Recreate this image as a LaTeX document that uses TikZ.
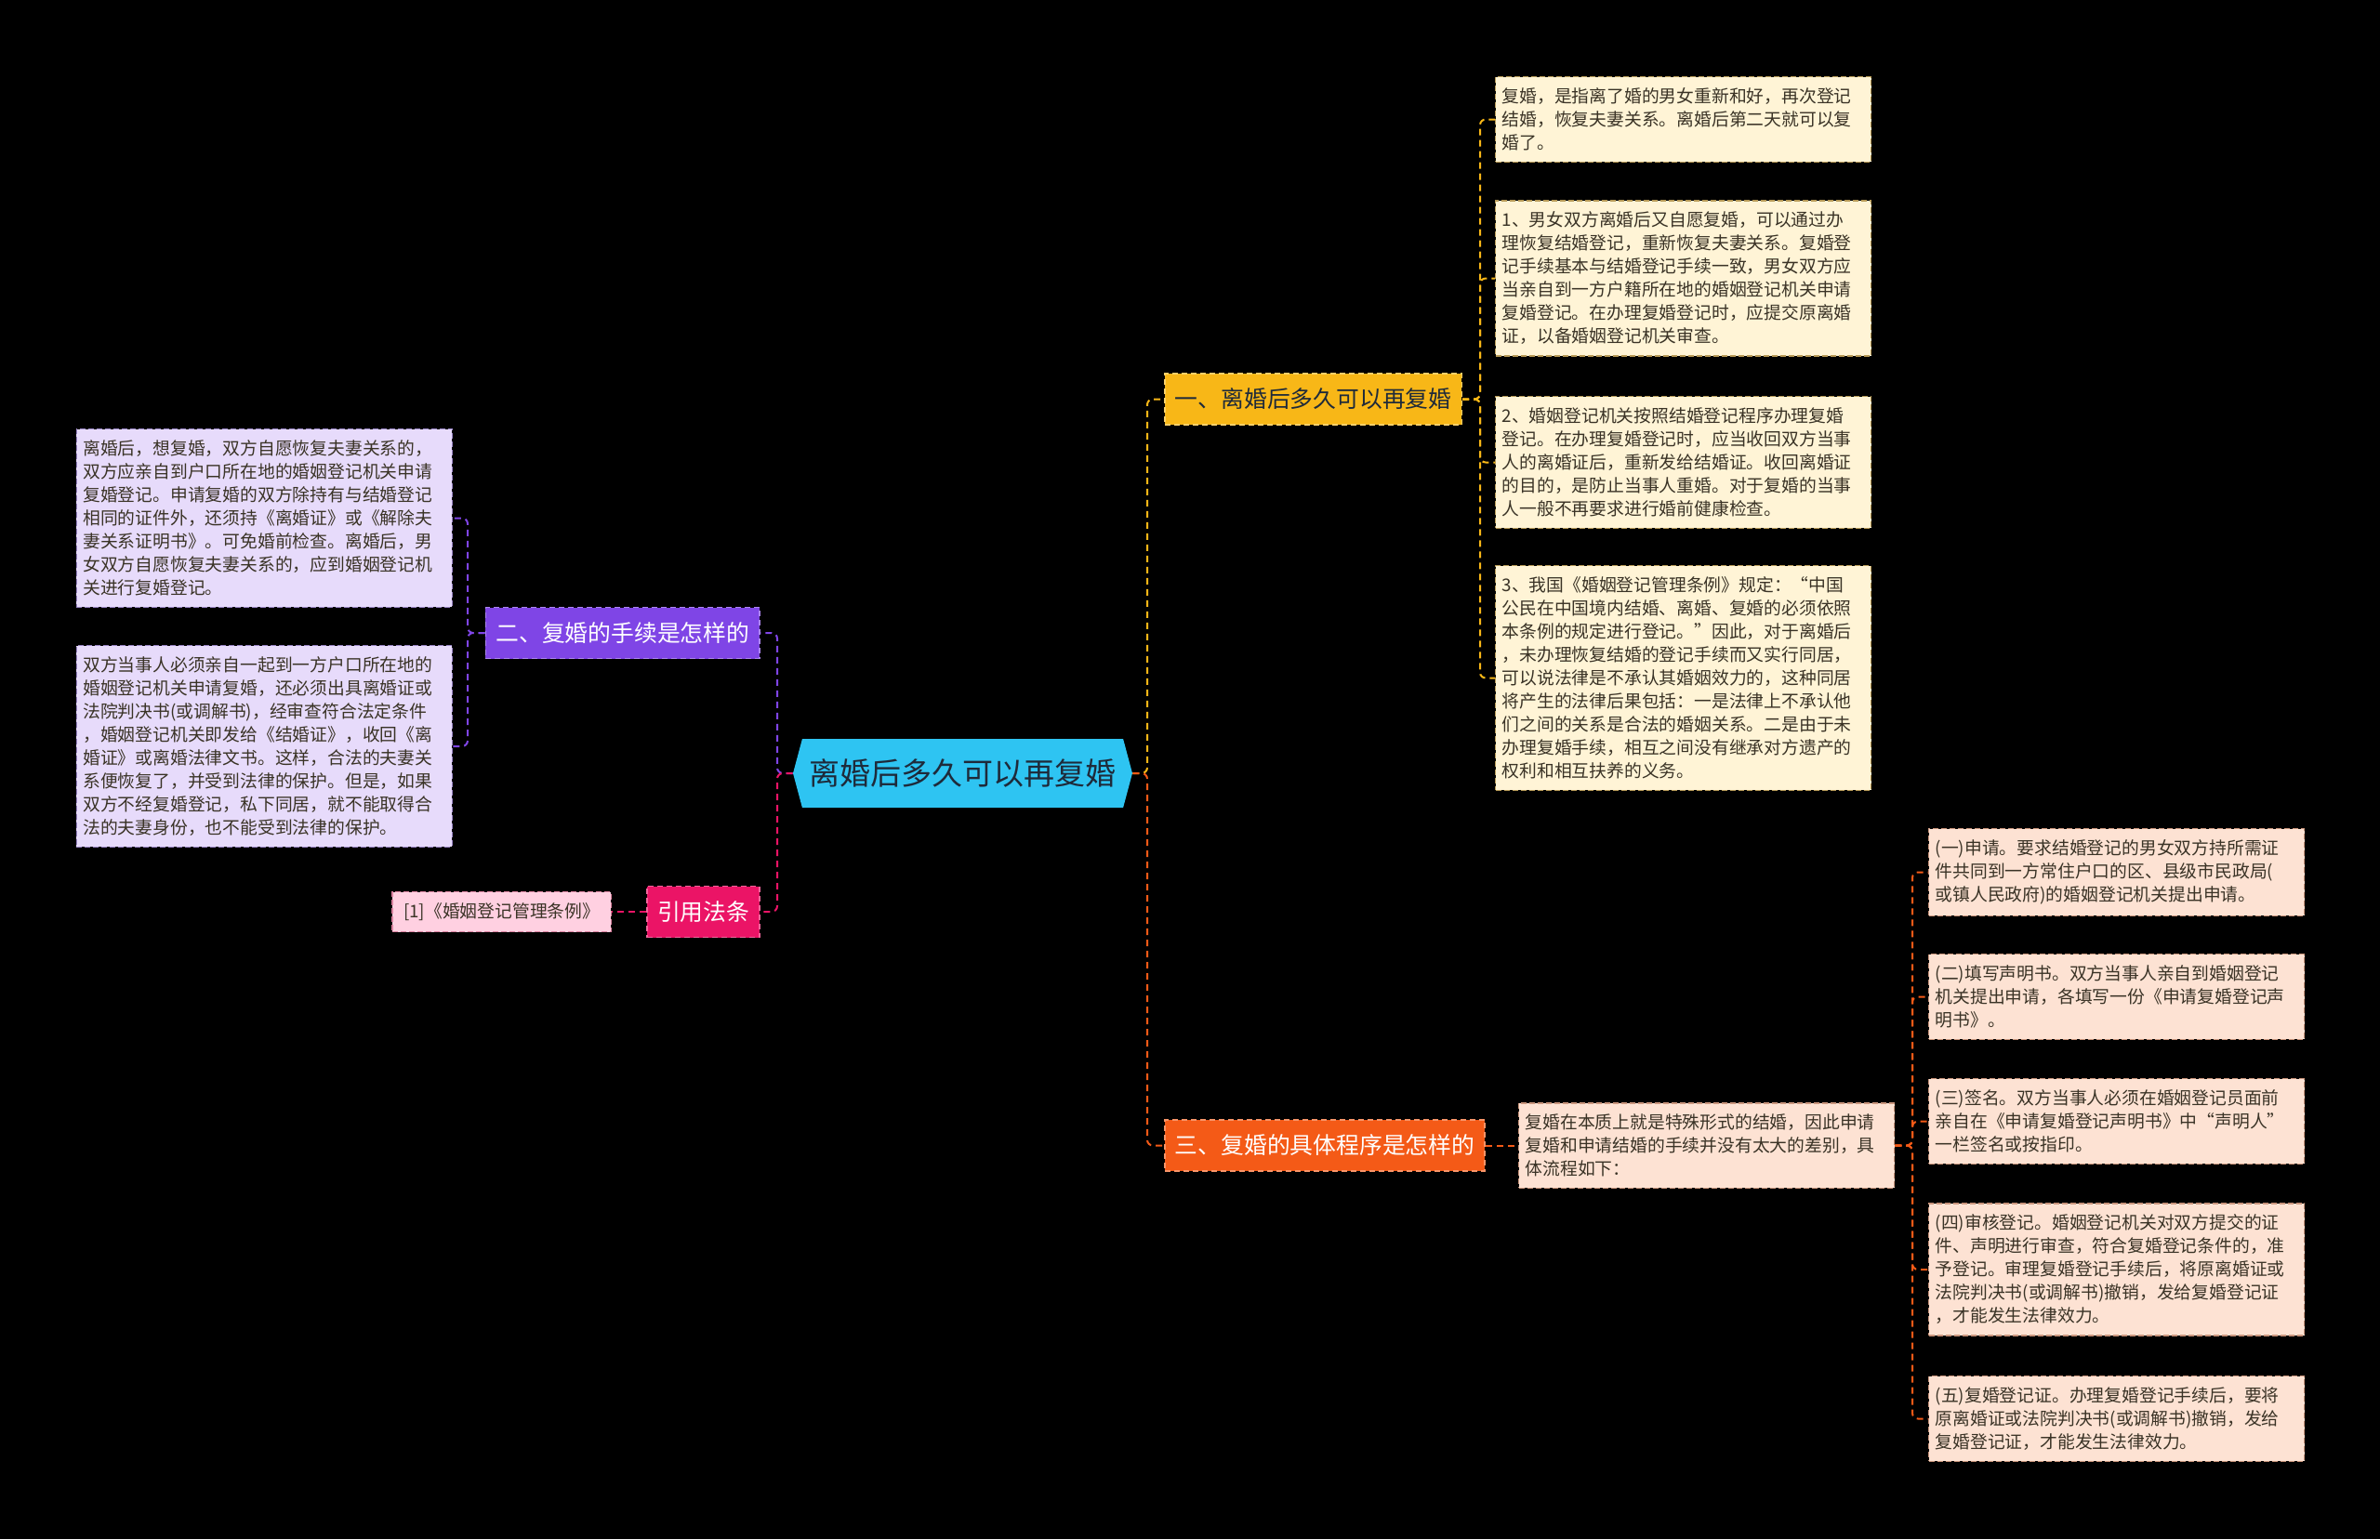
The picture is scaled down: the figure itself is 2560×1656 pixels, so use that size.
\documentclass[tikz,border=0pt]{standalone}
\usepackage{fontspec}
\setmainfont{Noto Sans CJK SC}
\usetikzlibrary{shapes.symbols}
\definecolor{HubCyan}{HTML}{2EC4F2}
\definecolor{HubText}{HTML}{1E2A3A}
\definecolor{GoldTopic}{HTML}{F8B717}
\definecolor{OrangeTopic}{HTML}{F45A17}
\definecolor{VioletTopic}{HTML}{7F45E6}
\definecolor{RoseTopic}{HTML}{EB1466}
\definecolor{GoldNote}{HTML}{FFF4D6}
\definecolor{OrangeNote}{HTML}{FDE2D3}
\definecolor{VioletNote}{HTML}{E7DBFB}
\definecolor{RoseNote}{HTML}{FFD0E1}
\definecolor{GoldEdge}{HTML}{B89B58}
\definecolor{OrangeEdge}{HTML}{C9957C}
\definecolor{VioletEdge}{HTML}{9884C4}
\definecolor{RoseEdge}{HTML}{D9829F}
\definecolor{NoteText}{HTML}{3A3326}

\begin{document}
\begin{tikzpicture}[
    x=0.5pt, y=-0.5pt,
    hub/.style={signal, signal to=east and west, signal pointer angle=150, fill=HubCyan, text=HubText, font=\fontsize{16.5}{20}\selectfont, minimum width=182.5pt, minimum height=37pt, inner sep=0pt},
    topic/.style={rectangle, draw=#1!65!white, fill=#1, dash pattern=on 3pt off 2pt, line width=0.8pt, text=white, font=\fontsize{12.4}{15}\selectfont, minimum height=27.5pt, inner xsep=5.5pt, inner ysep=0pt},
    note/.style 2 args={rectangle, draw=#1, fill=#2, dash pattern=on 3pt off 1.5pt, line width=0.7pt, text=NoteText, align=left, text width=195pt, inner xsep=3.5pt, inner ysep=6pt, font=\fontsize{9.4}{12.5}\selectfont},
    wire/.style={draw=#1, line width=1pt, dash pattern=on 3.5pt off 2.5pt, rounded corners=3pt}
  ]
    \fill [black] (0,0) rectangle (2560,1656);

    % Nodes
    \node (root) [hub] at (1035.5, 832) {离婚后多久可以再复婚};

    \node (t1) [topic=GoldTopic, text=HubText, anchor=west] at (1252, 429.5) {一、离婚后多久可以再复婚};
    \node (t2) [topic=VioletTopic, anchor=east] at (818, 681) {二、复婚的手续是怎样的};
    \node (t3) [topic=OrangeTopic, anchor=west] at (1252, 1232.5) {三、复婚的具体程序是怎样的};
    \node (t4) [topic=RoseTopic, anchor=east] at (818, 981) {引用法条};

    \node (n1a) [note={GoldEdge}{GoldNote}, anchor=west] at (1608, 128.5) {复婚，是指离了婚的男女重新和好，再次登记\\结婚，恢复夫妻关系。离婚后第二天就可以复\\婚了。};
    \node (n1b) [note={GoldEdge}{GoldNote}, anchor=west] at (1608, 299.5) {1、男女双方离婚后又自愿复婚，可以通过办\\理恢复结婚登记，重新恢复夫妻关系。复婚登\\记手续基本与结婚登记手续一致，男女双方应\\当亲自到一方户籍所在地的婚姻登记机关申请\\复婚登记。在办理复婚登记时，应提交原离婚\\证，以备婚姻登记机关审查。};
    \node (n1c) [note={GoldEdge}{GoldNote}, anchor=west] at (1608, 497.5) {2、婚姻登记机关按照结婚登记程序办理复婚\\登记。在办理复婚登记时，应当收回双方当事\\人的离婚证后，重新发给结婚证。收回离婚证\\的目的，是防止当事人重婚。对于复婚的当事\\人一般不再要求进行婚前健康检查。};
    \node (n1d) [note={GoldEdge}{GoldNote}, anchor=west] at (1608, 729.5) {3、我国《婚姻登记管理条例》规定：“中国\\公民在中国境内结婚、离婚、复婚的必须依照\\本条例的规定进行登记。”因此，对于离婚后\\，未办理恢复结婚的登记手续而又实行同居，\\可以说法律是不承认其婚姻效力的，这种同居\\将产生的法律后果包括：一是法律上不承认他\\们之间的关系是合法的婚姻关系。二是由于未\\办理复婚手续，相互之间没有继承对方遗产的\\权利和相互扶养的义务。};

    \node (n2a) [note={VioletEdge}{VioletNote}, anchor=east] at (487, 557.5) {离婚后，想复婚，双方自愿恢复夫妻关系的，\\双方应亲自到户口所在地的婚姻登记机关申请\\复婚登记。申请复婚的双方除持有与结婚登记\\相同的证件外，还须持《离婚证》或《解除夫\\妻关系证明书》。可免婚前检查。离婚后，男\\女双方自愿恢复夫妻关系的，应到婚姻登记机\\关进行复婚登记。};
    \node (n2b) [note={VioletEdge}{VioletNote}, anchor=east] at (487, 803) {双方当事人必须亲自一起到一方户口所在地的\\婚姻登记机关申请复婚，还必须出具离婚证或\\法院判决书(或调解书)，经审查符合法定条件\\，婚姻登记机关即发给《结婚证》，收回《离\\婚证》或离婚法律文书。这样，合法的夫妻关\\系便恢复了，并受到法律的保护。但是，如果\\双方不经复婚登记，私下同居，就不能取得合\\法的夫妻身份，也不能受到法律的保护。};

    \node (n4) [note={RoseEdge}{RoseNote}, text width=, anchor=east, inner xsep=6pt, minimum height=21.5pt, inner ysep=0pt] at (658, 981) {[1]《婚姻登记管理条例》};

    \node (n3) [note={OrangeEdge}{OrangeNote}, anchor=west] at (1633, 1232.5) {复婚在本质上就是特殊形式的结婚，因此申请\\复婚和申请结婚的手续并没有太大的差别，具\\体流程如下：};
    \node (n3a) [note={OrangeEdge}{OrangeNote}, anchor=west] at (2074, 938.5) {(一)申请。要求结婚登记的男女双方持所需证\\件共同到一方常住户口的区、县级市民政局(\\或镇人民政府)的婚姻登记机关提出申请。};
    \node (n3b) [note={OrangeEdge}{OrangeNote}, anchor=west] at (2074, 1072.5) {(二)填写声明书。双方当事人亲自到婚姻登记\\机关提出申请，各填写一份《申请复婚登记声\\明书》。};
    \node (n3c) [note={OrangeEdge}{OrangeNote}, anchor=west] at (2074, 1206.5) {(三)签名。双方当事人必须在婚姻登记员面前\\亲自在《申请复婚登记声明书》中“声明人”\\一栏签名或按指印。};
    \node (n3d) [note={OrangeEdge}{OrangeNote}, anchor=west] at (2074, 1366) {(四)审核登记。婚姻登记机关对双方提交的证\\件、声明进行审查，符合复婚登记条件的，准\\予登记。审理复婚登记手续后，将原离婚证或\\法院判决书(或调解书)撤销，发给复婚登记证\\，才能发生法律效力。};
    \node (n3e) [note={OrangeEdge}{OrangeNote}, anchor=west] at (2074, 1526.5) {(五)复婚登记证。办理复婚登记手续后，要将\\原离婚证或法院判决书(或调解书)撤销，发给\\复婚登记证，才能发生法律效力。};

    % Links
    \coordinate (rj) at (1234, 832);
    \coordinate (lj) at (836, 832);
    \coordinate (j1) at (1592, 429.5);
    \coordinate (j2) at (503, 681);
    \coordinate (j3) at (2057, 1232.5);

    \draw [wire=GoldTopic] (root.east) -- (rj) |- (t1.west);
    \draw [wire=OrangeTopic] (root.east) -- (rj) |- (t3.west);
    \draw [wire=VioletTopic] (root.west) -- (lj) |- (t2.east);
    \draw [wire=RoseTopic] (root.west) -- (lj) |- (t4.east);

    \draw [wire=GoldTopic] (t1.east) -- (j1) |- (n1a.west);
    \draw [wire=GoldTopic] (t1.east) -- (j1) |- (n1b.west);
    \draw [wire=GoldTopic] (t1.east) -- (j1) |- (n1c.west);
    \draw [wire=GoldTopic] (t1.east) -- (j1) |- (n1d.west);

    \draw [wire=VioletTopic] (t2.west) -- (j2) |- (n2a.east);
    \draw [wire=VioletTopic] (t2.west) -- (j2) |- (n2b.east);

    \draw [wire=RoseTopic] (t4.west) -- (n4.east);

    \draw [wire=OrangeTopic] (t3.east) -- (n3.west);
    \draw [wire=OrangeTopic] (n3.east) -- (j3) |- (n3a.west);
    \draw [wire=OrangeTopic] (n3.east) -- (j3) |- (n3b.west);
    \draw [wire=OrangeTopic] (n3.east) -- (j3) |- (n3c.west);
    \draw [wire=OrangeTopic] (n3.east) -- (j3) |- (n3d.west);
    \draw [wire=OrangeTopic] (n3.east) -- (j3) |- (n3e.west);
  \end{tikzpicture}
\end{document}
